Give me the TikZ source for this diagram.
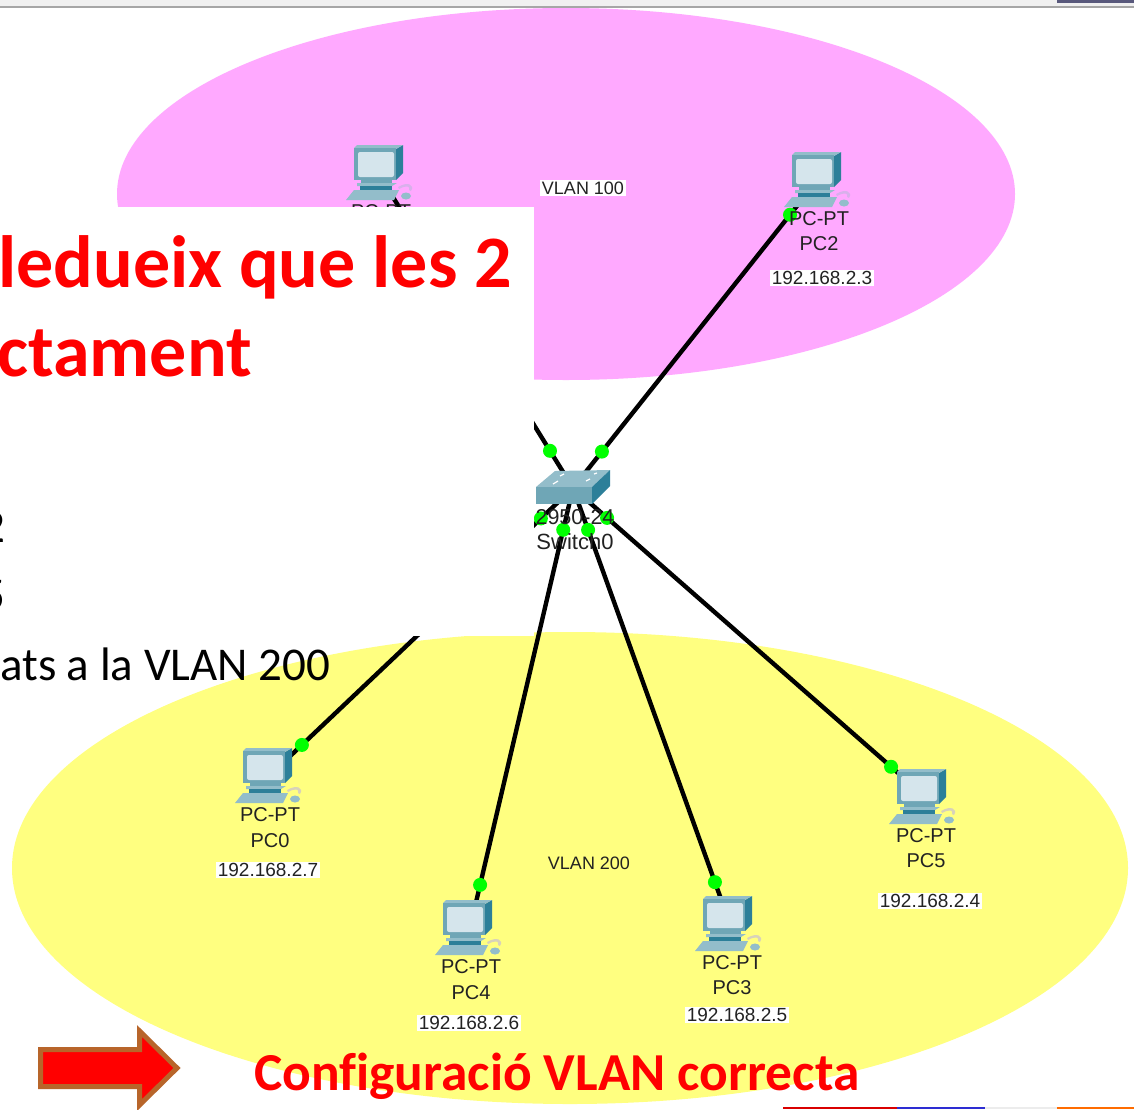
\documentclass[tikz,border=0pt]{standalone}
\usepackage{fontspec}
\setmainfont{Liberation Sans}
\newfontfamily\slidefont[Ligatures=NoCommon]{Carlito}
\definecolor{vlanpink}{HTML}{FFA9FF}
\definecolor{vlanyellow}{HTML}{FFFF80}
\definecolor{pcframe}{HTML}{6FA6B6}
\definecolor{pclight}{HTML}{93BDCA}
\definecolor{pcdark}{HTML}{2C7F99}
\definecolor{pcscreen}{HTML}{D5E5EC}
\definecolor{arrowedge}{HTML}{B8652A}
\definecolor{labelink}{HTML}{222222}
\tikzset{
    cable/.style={line width=4.4pt, black},
    linkdot/.style={circle, fill=green, inner sep=0pt, minimum size=14pt},
    devlabel/.style={text=labelink, inner sep=0pt, font=\fontsize{20}{24}\selectfont},
    iplabel/.style={text=labelink, fill=white, inner sep=1.5pt, font=\fontsize{19}{23}\selectfont},
    vlanlabel/.style={text=labelink, inner sep=2pt, font=\fontsize{18}{22}\selectfont},
    redtext/.style={text=red, inner sep=0pt, font=\slidefont\bfseries\fontsize{74}{80}\selectfont},
    blacktext/.style={text=black, inner sep=0pt, font=\slidefont\fontsize{47}{56}\selectfont},
    pcicon/.pic={
        \fill[pclight!60!vlanpink, opacity=0.6] (20,14) .. controls (30,8) and (37,12) .. (33,18) -- (31,17) .. controls (33,13) and (28,12) .. (21,16) -- cycle;
        \fill[pcdark] (18,-24) -- (25,-28) -- (25,0) -- (18,7) -- cycle;
        \fill[pclight] (-24,-25) -- (-21,-28) -- (25,-28) -- (18,-24) -- cycle;
        \fill[pcframe] (-24,-25) rectangle (18,7);
        \fill[pcscreen, rounded corners=2pt] (-20,-21) rectangle (16,4);
        \fill[pcframe] (-17,7) rectangle (14,10);
        \fill[pclight] (-21,10) -- (19,10) -- (14,13) -- (-21,13) -- cycle;
        \fill[pcdark] (-18,13) rectangle (14,17);
        \fill[pclight] (-24,17) -- (21,17) -- (16,27) -- (-32,27) -- cycle;
        \fill[pclight] (28,23) ellipse (5pt and 3.5pt);
    },
}
\begin{document}
\begin{tikzpicture}[x=1pt, y=-1pt]
    \useasboundingbox (0, 0) rectangle (1134, 1109);
    \fill[white] (0, 0) rectangle (1134, 1109);
    \fill[vlanpink] (566, 194) ellipse (449pt and 186pt);
    \fill[vlanyellow] (570, 868) ellipse (558pt and 236pt);

    \fill[gray!12] (0, 0) rectangle (1134, 6);
    \fill[gray!70] (0, 6) rectangle (1134, 8);
    \fill[black!55!blue!30!gray] (1057, 0) rectangle (1134, 3);
    \fill[red!85!black] (783, 1107) rectangle (897, 1109);
    \fill[blue!65!gray] (897, 1107) rectangle (985, 1109);
    \fill[gray!15] (985, 1107) rectangle (1057, 1109);
    \fill[orange!85!red] (1057, 1107) rectangle (1134, 1109);

    \coordinate (sw) at (573, 488);
    \coordinate (pc0) at (267, 776);
    \coordinate (pc1) at (378, 173);
    \coordinate (pc2) at (816, 180);
    \coordinate (pc3) at (727, 924);
    \coordinate (pc4) at (467, 928);
    \coordinate (pc5) at (921, 797);
    \coordinate (port0) at (267, 778);
    \coordinate (port2) at (816, 182);
    \coordinate (port3) at (730, 924);
    \coordinate (port4) at (470, 928);
    \coordinate (port5) at (921, 793);

    \draw[cable] (sw) -- (pc1) node[linkdot, pos=0.118] {};
    \foreach \pc/\near/\far in {port0/0.105/0.886, port2/0.119/0.893, port3/0.096/0.904, port4/0.095/0.902, port5/0.098/0.914}
        \draw[cable] (sw) -- (\pc) node[linkdot, pos=\near] {} node[linkdot, pos=\far] {};

    \foreach \pc in {pc0, pc1, pc2, pc3, pc4, pc5}
        \pic at (\pc) {pcicon};

    \fill[pclight] (536, 487) -- (555, 471) -- (610, 470) -- (592, 487) -- cycle;
    \fill[pcframe] (536, 487) rectangle (592, 504);
    \fill[pcdark] (592, 487) -- (610, 470) -- (610, 486) -- (592, 504) -- cycle;
    \draw[white, line width=1.2pt] (553, 484) -- (558, 481) (586, 481) -- (590, 479) (560, 476) -- (564, 474) (594, 474) -- (597, 473);

    \node[devlabel] (swtype) at (575, 517) {\fontsize{21.5}{24}\selectfont 2950-24};
    \node[devlabel] (swname) at (575, 542) {\fontsize{22}{24}\selectfont Switch0};

    \node[devlabel] (type0) at (270, 815) {PC-PT};
    \node[devlabel] (name0) at (270, 841) {PC0};
    \node[iplabel] (ip0) at (268, 870) {192.168.2.7};
    \node[devlabel] (type1) at (381, 212) {PC-PT};
    \node[devlabel] (type2) at (819, 219) {PC-PT};
    \node[devlabel] (name2) at (819, 244) {PC2};
    \node[iplabel] (ip2) at (822, 278) {192.168.2.3};
    \node[devlabel] (type3) at (732, 963) {PC-PT};
    \node[devlabel] (name3) at (732, 988) {PC3};
    \node[iplabel] (ip3) at (737, 1015) {192.168.2.5};
    \node[devlabel] (type4) at (471, 967) {PC-PT};
    \node[devlabel] (name4) at (471, 993) {PC4};
    \node[iplabel] (ip4) at (469, 1023) {192.168.2.6};
    \node[devlabel] (type5) at (926, 836) {PC-PT};
    \node[devlabel] (name5) at (926, 861) {PC5};
    \node[iplabel] (ip5) at (930, 901) {192.168.2.4};

    \node[vlanlabel, fill=white] (vlan100) at (583, 188) {VLAN 100};
    \node[vlanlabel] (vlan200) at (589, 863) {VLAN 200};

    \fill[white] (0, 207) rectangle (534, 636);
    \node[redtext, anchor=base east] (line1) at (512, 287) {ledueix que les 2};
    \node[redtext, anchor=base east] (line2) at (252, 376) {ctament};
    \node[blacktext, anchor=base east] (frag1) at (6, 542) {2};
    \node[blacktext, anchor=base east] (frag2) at (6, 610) {5};
    \node[blacktext, anchor=base west] (line3) at (0, 680) {ats a la VLAN 200};

    \filldraw[fill=red, draw=arrowedge, line width=5pt, miter limit=10] (40.5, 1049.5) -- (139.5, 1049.5) -- (139.5, 1031) -- (177, 1068) -- (139.5, 1105) -- (139.5, 1086.5) -- (40.5, 1086.5) -- cycle;
    \node[redtext, anchor=base west, font=\slidefont\bfseries\fontsize{53.4}{60}\selectfont] (caption) at (254, 1090) {Configuració VLAN correcta};
\end{tikzpicture}
\end{document}
